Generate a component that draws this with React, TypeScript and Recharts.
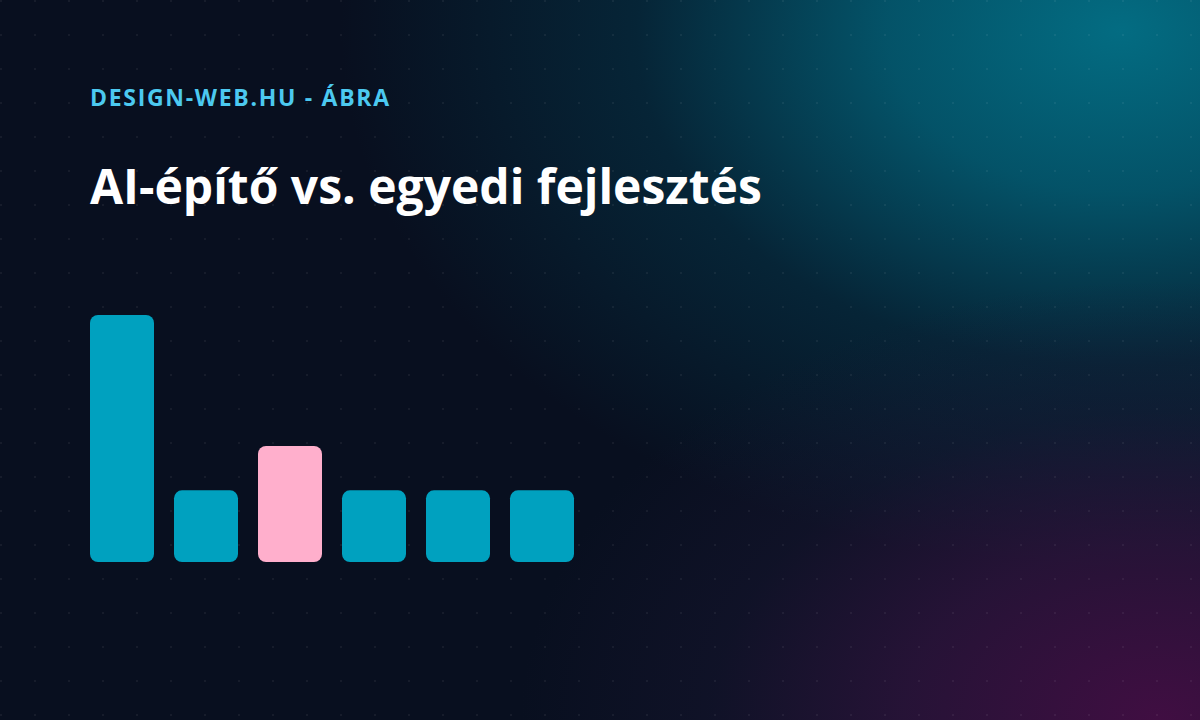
import { BarChart, Bar, XAxis, YAxis, Cell } from 'recharts';

const categories = ['A', 'B', 'C', 'D', 'E', 'F'];
const values = [100, 29, 47, 29, 29, 29];
const highlighted = [false, false, true, false, false, false];

const data = categories.map((name, i) => ({ name, value: values[i], hot: highlighted[i] }));

const TEAL = '#00a1bf';
const PINK = '#ffafcc';

export default function App() {
  return (
    <div
      style={{
        position: 'fixed',
        left: 0,
        top: 0,
        width: 1200,
        height: 720,
        overflow: 'hidden',
        background: '#080f1f',
        fontFamily: '"Open Sans", sans-serif',
      }}
    >
      {/* teal glow, top right */}
      <div
        style={{
          position: 'absolute',
          inset: 0,
          background:
            'radial-gradient(ellipse 780px 540px at 1120px 30px, rgba(3,108,130,1) 0%, rgba(3,92,114,0.88) 30%, rgba(4,58,78,0.5) 62%, rgba(8,15,31,0) 100%)',
        }}
      />
      {/* purple glow, bottom right */}
      <div
        style={{
          position: 'absolute',
          inset: 0,
          background:
            'radial-gradient(ellipse 640px 440px at 1160px 720px, rgba(64,14,66,1) 0%, rgba(48,20,62,0.75) 40%, rgba(30,24,55,0.35) 70%, rgba(8,15,31,0) 100%)',
        }}
      />
      <svg width={1200} height={720} style={{ position: 'absolute', left: 0, top: 0 }}>
        <defs>
          <pattern id="dots" width={34} height={34} patternUnits="userSpaceOnUse">
            <circle cx={1} cy={1} r={1} fill="rgba(255,255,255,0.07)" />
          </pattern>
        </defs>
        <rect width={1200} height={720} fill="url(#dots)" />
      </svg>
      <div
        style={{
          position: 'absolute',
          left: 90,
          top: 86,
          fontSize: 23,
          lineHeight: '23px',
          letterSpacing: 1.7,
          fontWeight: 700,
          color: '#4cc9f0',
          whiteSpace: 'nowrap',
        }}
      >
        DESIGN-WEB.HU - ÁBRA
      </div>
      <div
        style={{
          position: 'absolute',
          left: 90,
          top: 162,
          fontSize: 48,
          lineHeight: '48px',
          fontWeight: 700,
          color: '#ffffff',
          whiteSpace: 'nowrap',
        }}
      >
        AI-építő vs. egyedi fejlesztés
      </div>
      <div style={{ position: 'absolute', left: 0, top: 0 }}>
        <BarChart
          width={1200}
          height={720}
          data={data}
          margin={{ top: 315, right: 616, bottom: 158, left: 80 }}
        >
          <XAxis dataKey="name" hide />
          <YAxis domain={[0, 100]} hide />
          <Bar dataKey="value" barSize={64} radius={8} isAnimationActive={false}>
            {data.map((d, i) => (
              <Cell key={`cell-${i}`} fill={d.hot ? PINK : TEAL} />
            ))}
          </Bar>
        </BarChart>
      </div>
    </div>
  );
}
